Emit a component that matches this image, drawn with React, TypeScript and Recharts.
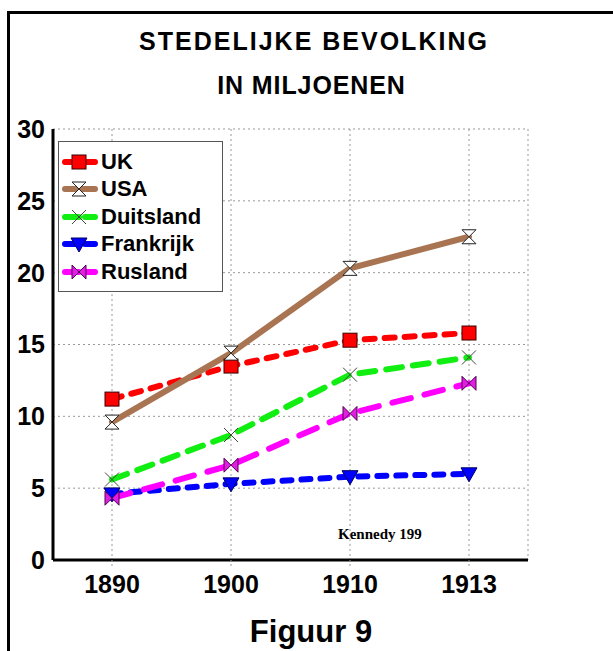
import React from 'react';
import { CartesianGrid, Legend, Line, LineChart, XAxis, YAxis } from 'recharts';

// DATA (millions)
const years = ['1890', '1900', '1910', '1913'];
const uk = [11.2, 13.5, 15.3, 15.8];
const usa = [9.6, 14.4, 20.3, 22.5];
const duitsland = [5.6, 8.7, 12.9, 14.1];
const frankrijk = [4.6, 5.3, 5.8, 6.0];
const rusland = [4.3, 6.6, 10.2, 12.3];
const yTicks = [0, 5, 10, 15, 20, 25, 30];

const data = years.map((year, i) => ({
  year,
  UK: uk[i],
  USA: usa[i],
  Duitsland: duitsland[i],
  Frankrijk: frankrijk[i],
  Rusland: rusland[i],
}));

const FONT = '"Liberation Sans", Arial, sans-serif';

//MARKER SHAPES
const drawMarker = (shape: string, cx: number, cy: number, key?: any) => {
  switch (shape) {
    case 'square':
      return <rect key={key} x={cx - 7} y={cy - 7} width={14} height={14} fill="#FF0000" stroke="#3a0000" strokeWidth={1} />;
    case 'hourglass':
      return (
        <path key={key} d={`M${cx - 7},${cy - 7} L${cx + 7},${cy - 7} L${cx - 7},${cy + 7} L${cx + 7},${cy + 7} Z`}
          fill="#fff" stroke="#222" strokeWidth={1} />
      );
    case 'cross':
      return (
        <path key={key} d={`M${cx - 7},${cy - 7} L${cx + 7},${cy + 7} M${cx + 7},${cy - 7} L${cx - 7},${cy + 7}`}
          stroke="#444" strokeWidth={1} fill="none" />
      );
    case 'triangle':
      return <path key={key} d={`M${cx - 8},${cy - 6} L${cx + 8},${cy - 6} L${cx},${cy + 8} Z`} fill="#0000FF" stroke="#000060" strokeWidth={1} />;
    default:
      return (
        <path key={key} d={`M${cx - 7},${cy - 7} L${cx + 7},${cy + 7} L${cx + 7},${cy - 7} L${cx - 7},${cy + 7} Z`}
          fill="#E020E0" stroke="#500050" strokeWidth={1} />
      );
  }
};

const SERIES = [
  { name: 'UK', color: '#FF0000', dash: '10 10', shape: 'square' },
  { name: 'USA', color: '#A87452', dash: undefined, shape: 'hourglass' },
  { name: 'Duitsland', color: '#11EE11', dash: '16 11', shape: 'cross' },
  { name: 'Frankrijk', color: '#0000FF', dash: '9 10', shape: 'triangle' },
  { name: 'Rusland', color: '#FF00FF', dash: '19 14', shape: 'bowtie' },
];

const renderLegend = () => (
  <div style={{ border: '1px solid #555', background: '#fff', padding: '6px 0 0 0', boxSizing: 'border-box', height: 151 }}>
    {SERIES.map((s) => (
      <div key={s.name} style={{ display: 'flex', alignItems: 'center', height: 27.5 }}>
        <svg width={42} height={20}>
          <line x1={6} y1={10} x2={36} y2={10} stroke={s.color} strokeWidth={6} strokeLinecap="round" strokeDasharray={s.dash ? '14 6' : undefined} />
          {drawMarker(s.shape, 20, 10)}
        </svg>
        <span style={{ fontFamily: FONT, fontWeight: 'bold', fontSize: 22, color: '#000' }}>{s.name}</span>
      </div>
    ))}
  </div>
);

export default function App() {
  return (
    <div style={{ position: 'relative', width: 613, height: 651, background: '#fff', overflow: 'hidden' }}>
      <style>{'body{margin:0;}'}</style>
      {/* frame */}
      <div style={{ position: 'absolute', left: 7, top: 11, width: 606, height: 640, borderTop: '3px solid #000', borderLeft: '3px solid #000' }} />
      <div style={{ position: 'absolute', left: 0, width: 628, top: 29, textAlign: 'center', fontFamily: FONT, fontWeight: 'bold', fontSize: 25, lineHeight: '25px', letterSpacing: 2 }}>
        STEDELIJKE BEVOLKING
      </div>
      <div style={{ position: 'absolute', left: 0, width: 623, top: 73, textAlign: 'center', fontFamily: FONT, fontWeight: 'bold', fontSize: 25, lineHeight: '25px', letterSpacing: 0.9 }}>
        IN MILJOENEN
      </div>

      <div style={{ position: 'absolute', left: 0, top: 0 }}>
        <LineChart width={613} height={651} data={data} margin={{ top: 129, right: 85, bottom: 51, left: 13 }}>
          <CartesianGrid yAxisId="l" stroke="#999" strokeDasharray="2 3" />
          <XAxis
            dataKey="year"
            padding={{ left: 59, right: 59 }}
            height={40}
            axisLine={{ stroke: '#000', strokeWidth: 3 }}
            tickLine={{ stroke: '#999', strokeDasharray: '2 3' }}
            tickSize={6}
            tickMargin={9}
            tick={{ fill: '#000', fontFamily: FONT, fontWeight: 'bold', fontSize: 25 }}
          />
          <YAxis
            yAxisId="l"
            domain={[0, 30]}
            ticks={yTicks}
            width={40}
            axisLine={{ stroke: '#000', strokeWidth: 3 }}
            tickLine={false}
            tickSize={0}
            tickMargin={8}
            tick={{ fill: '#000', fontFamily: FONT, fontWeight: 'bold', fontSize: 25 }}
          />
          <YAxis yAxisId="r" orientation="right" domain={[0, 30]} width={0} tick={false} tickLine={false} axisLine={{ stroke: '#888', strokeWidth: 2 }} />
          <Legend
            layout="vertical"
            align="center"
            verticalAlign="middle"
            content={renderLegend}
            wrapperStyle={{ left: 58, top: 141, width: 165, height: 151 }}
          />
          {SERIES.map((s) => (
            <Line
              key={s.name}
              yAxisId="l"
              type="linear"
              dataKey={s.name}
              stroke={s.color}
              strokeWidth={6}
              strokeDasharray={s.dash}
              strokeLinecap="round"
              isAnimationActive={false}
              dot={(p: any) => drawMarker(s.shape, p.cx, p.cy, `${s.name}-${p.index}`)}
              activeDot={false}
            />
          ))}
        </LineChart>
      </div>

      <div style={{ position: 'absolute', left: 338, top: 526, fontFamily: '"Liberation Serif", "Times New Roman", serif', fontWeight: 'bold', fontSize: 15, whiteSpace: 'nowrap' }}>
        Kennedy 199
      </div>
      <div style={{ position: 'absolute', left: 0, width: 622, top: 616, textAlign: 'center', fontFamily: FONT, fontWeight: 'bold', fontSize: 31, lineHeight: '31px' }}>
        Figuur 9
      </div>
    </div>
  );
}
